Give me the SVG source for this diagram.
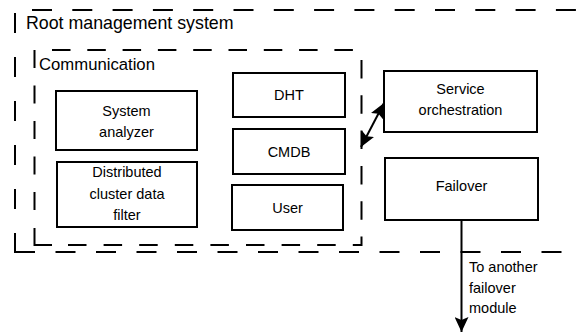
<svg xmlns="http://www.w3.org/2000/svg" width="577" height="333" viewBox="0 0 577 333">
<style>
.box{fill:#fff;stroke:#000;stroke-width:2}
.dash{fill:none;stroke:#000;stroke-width:2}
.lbl{font-family:"Liberation Sans",Arial,sans-serif;font-size:14.5px;fill:#000;text-anchor:middle}
.title{font-family:"Liberation Sans",Arial,sans-serif;fill:#000}
.conn{fill:none;stroke:#000;stroke-width:2}
</style>
<defs>
<marker id="ah" markerUnits="userSpaceOnUse" markerWidth="16" markerHeight="14" refX="15" refY="7" orient="auto-start-reverse" viewBox="0 0 16 14">
<path d="M0,0 L15,7 L0,14 L3,7 Z" fill="#000"/>
</marker>
</defs>
<g id="root-system">
<path class="dash" d="M32,10 H577" stroke-dasharray="20 20.3"/>
<path class="dash" d="M15,13 V253" stroke-dasharray="20 24"/>
<path class="dash" d="M15,252 H577" stroke-dasharray="20 20.5"/>
<text class="title" x="26" y="29" font-size="17.8">Root management system</text>
</g>
<g id="communication">
<path class="dash" d="M52,50 H361" stroke-dasharray="18.5 16.8"/>
<path class="dash" d="M361.5,60 V237" stroke-dasharray="18.5 16.8"/>
<path class="dash" d="M361.5,237 V245 H353"/>
<path class="dash" d="M68,245 H353" stroke-dasharray="18.5 17.1"/>
<path class="dash" d="M34.5,228 V245 H52"/>
<path class="dash" d="M34.5,50 V211" stroke-dasharray="18 17.5"/>
<text class="title" x="39" y="70" font-size="16.7">Communication</text>
</g>
<g id="system-analyzer">
<rect class="box" x="56" y="91" width="141" height="59"/>
<text class="lbl" x="126.5" y="116">System</text>
<text class="lbl" x="126.5" y="137">analyzer</text>
</g>
<g id="cluster-filter">
<rect class="box" x="57" y="162" width="140" height="65"/>
<text class="lbl" x="127" y="177">Distributed</text>
<text class="lbl" x="127" y="198.5">cluster data</text>
<text class="lbl" x="127" y="220">filter</text>
</g>
<g id="dht">
<rect class="box" x="233" y="73" width="112" height="44"/>
<text class="lbl" x="289" y="100">DHT</text>
</g>
<g id="cmdb">
<rect class="box" x="233" y="129" width="112" height="45"/>
<text class="lbl" x="289" y="157">CMDB</text>
</g>
<g id="user">
<rect class="box" x="232" y="185" width="111" height="45"/>
<text class="lbl" x="287.5" y="213">User</text>
</g>
<g id="service-orchestration">
<rect class="box" x="384" y="71" width="153" height="61"/>
<text class="lbl" x="460.5" y="94">Service</text>
<text class="lbl" x="460.5" y="115">orchestration</text>
</g>
<g id="failover">
<rect class="box" x="385" y="158" width="153" height="62"/>
<text class="lbl" x="461.5" y="191">Failover</text>
</g>
<g id="connectors">
<line class="conn" x1="361" y1="147" x2="384" y2="103" marker-start="url(#ah)" marker-end="url(#ah)"/>
<line class="conn" x1="461.5" y1="220" x2="461.5" y2="332" marker-end="url(#ah)"/>
<text class="title" x="469" y="271.5" font-size="14.5">To another</text>
<text class="title" x="469" y="292.5" font-size="14.5">failover</text>
<text class="title" x="469" y="313" font-size="14.5">module</text>
</g>
</svg>
